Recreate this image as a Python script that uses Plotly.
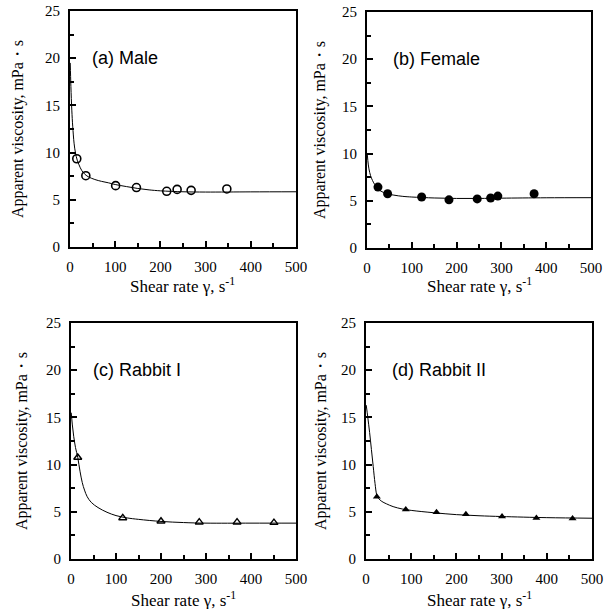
import plotly.graph_objects as go

W, H = 616, 609

# ---- data ----
panel_labels = ["(a) Male", "(b) Female", "(c) Rabbit I", "(d) Rabbit II"]

male_x = [15, 35, 101, 147, 214, 237, 268, 347]
male_y = [9.35, 7.55, 6.5, 6.3, 5.9, 6.1, 6.0, 6.15]
male_fit_x = [0.5, 2, 4, 6, 9, 12, 16, 20, 26, 32, 40, 55, 70, 85, 100, 125, 150, 175, 200, 250, 300, 400, 500]
male_fit_y = [19.5, 17.0, 14.5, 12.8, 11.0, 10.0, 9.2, 8.7, 8.1, 7.75, 7.45, 7.15, 6.95, 6.8, 6.62, 6.4, 6.2, 6.05, 5.95, 5.85, 5.82, 5.84, 5.85]

female_x = [24.5, 46, 122, 183, 246, 276, 292, 373]
female_y = [6.45, 5.75, 5.4, 5.1, 5.2, 5.3, 5.5, 5.75]
female_fit_x = [0.5, 3, 6, 10, 15, 20, 30, 45, 60, 80, 100, 150, 200, 250, 300, 400, 500]
female_fit_y = [10.0, 8.8, 8.0, 7.4, 6.9, 6.55, 6.05, 5.75, 5.6, 5.47, 5.4, 5.3, 5.25, 5.25, 5.28, 5.32, 5.33]

rabbit1_x = [15, 115, 200, 285, 369, 451]
rabbit1_y = [10.75, 4.35, 4.0, 3.9, 3.9, 3.85]
rabbit1_fit_x = [0.5, 3, 6, 10, 15, 20, 25, 30, 36, 45, 60, 80, 100, 125, 150, 200, 250, 300, 400, 500]
rabbit1_fit_y = [15.5, 14.2, 13.0, 11.8, 10.75, 9.3, 8.1, 7.3, 6.6, 6.0, 5.45, 4.95, 4.6, 4.35, 4.2, 3.98, 3.86, 3.8, 3.8, 3.8]

rabbit2_x = [24, 88, 156, 221, 301, 377, 457]
rabbit2_y = [6.6, 5.25, 4.95, 4.75, 4.5, 4.35, 4.3]
rabbit2_fit_x = [0.5, 4, 8, 12, 16, 20, 24, 28, 35, 45, 60, 80, 100, 150, 200, 250, 300, 400, 500]
rabbit2_fit_y = [16.3, 15.0, 13.4, 11.6, 9.8, 8.0, 6.75, 6.4, 6.1, 5.85, 5.55, 5.3, 5.15, 4.9, 4.7, 4.58, 4.5, 4.38, 4.32]

x_ticks = [0, 100, 200, 300, 400, 500]
y_ticks = [0, 5, 10, 15, 20, 25]

# ---- layout geometry (pixels) ----
boxes = [  # left, right, top, bottom
    (70, 296, 11, 247),
    (367, 591, 12, 248),
    (71, 296, 323, 559),
    (366, 592, 323, 559),
]
ytitle_x = [18, 320, 22, 321]
xtitle_y = [285, 285, 599, 599]
label_x = [45, 54, 45, 53]

serif = "Times New Roman, Liberation Serif, serif"
sans = "Arial, Liberation Sans, sans-serif"

markers = [
    dict(symbol="circle-open", size=8, color="black", line=dict(width=1.6, color="black")),
    dict(symbol="circle", size=9, color="black"),
    dict(symbol="triangle-up-open", size=7, color="black", line=dict(width=1.4, color="black")),
    dict(symbol="triangle-up", size=7, color="black"),
]
series = [
    (male_x, male_y, male_fit_x, male_fit_y),
    (female_x, female_y, female_fit_x, female_fit_y),
    (rabbit1_x, rabbit1_y, rabbit1_fit_x, rabbit1_fit_y),
    (rabbit2_x, rabbit2_y, rabbit2_fit_x, rabbit2_fit_y),
]

fig = go.Figure()
annotations = []
for i, (box, (px, py, fx, fy)) in enumerate(zip(boxes, series)):
    n = "" if i == 0 else str(i + 1)
    xa, ya = "x" + n, "y" + n
    l, r, t, b = box
    fig.add_trace(go.Scatter(x=fx, y=fy, mode="lines", line=dict(color="black", width=1),
                             xaxis=xa, yaxis=ya, showlegend=False, line_shape="spline"))
    fig.add_trace(go.Scatter(x=px, y=py, mode="markers", marker=markers[i],
                             xaxis=xa, yaxis=ya, showlegend=False))
    axcommon = dict(showline=True, linewidth=2, linecolor="black", mirror=True,
                    ticks="inside", ticklen=6, tickwidth=2, tickcolor="black",
                    ticklabelstandoff=5,
                    showgrid=False, zeroline=False, automargin=False,
                    tickfont=dict(family=serif, size=15, color="black"))
    fig.layout["xaxis" + n] = dict(
        domain=[l / W, r / W], range=[0, 500], tickvals=x_ticks, anchor=ya,
        minor=dict(dtick=50, ticks="inside", ticklen=4, tickwidth=2, tickcolor="black", showgrid=False),
        **axcommon)
    fig.layout["yaxis" + n] = dict(
        domain=[1 - b / H, 1 - t / H], range=[0, 25], tickvals=y_ticks, anchor=xa,
        minor=dict(dtick=2.5, ticks="inside", ticklen=4, tickwidth=2, tickcolor="black", showgrid=False),
        **axcommon)
    annotations.append(dict(text=panel_labels[i], x=label_x[i], y=20, xref=xa, yref=ya,
                            xanchor="left", yanchor="middle", showarrow=False,
                            font=dict(family=sans, size=18, color="black")))
    annotations.append(dict(text="Apparent viscosity, mPa・s", textangle=-90,
                            x=ytitle_x[i] / W, y=1 - (t + b) / 2 / H, xref="paper", yref="paper",
                            xanchor="center", yanchor="middle", showarrow=False,
                            font=dict(family=serif, size=16, color="black")))
    annotations.append(dict(text="Shear rate γ, s<sup>-1</sup>",
                            x=(l + r) / 2 / W, y=1 - xtitle_y[i] / H, xref="paper", yref="paper",
                            xanchor="center", yanchor="middle", showarrow=False,
                            font=dict(family=serif, size=17, color="black")))

fig.update_layout(width=W, height=H, margin=dict(l=0, r=0, t=0, b=0),
                  paper_bgcolor="white", plot_bgcolor="white",
                  annotations=annotations)
fig.write_html("out.html", config={"displayModeBar": False},
               post_script="document.body.style.margin='0';document.body.style.overflow='hidden';")
